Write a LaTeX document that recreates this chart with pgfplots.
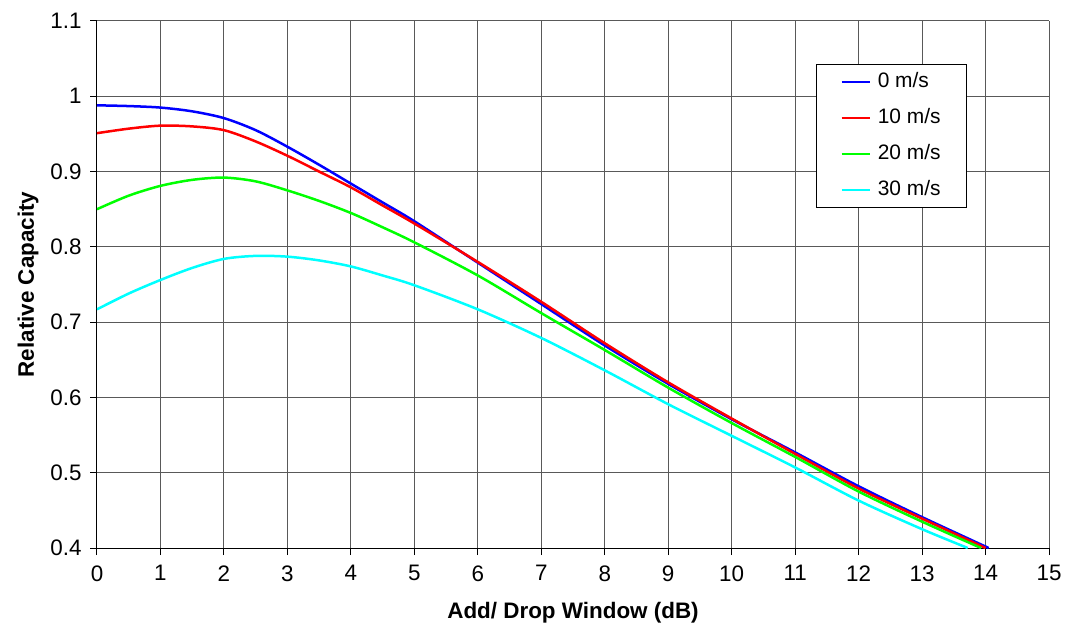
\documentclass[border=0pt]{standalone}
\usepackage{pgfplots}
\pgfplotsset{compat=1.18}
\usepackage{fontspec}
\setmainfont{Liberation Sans}
\definecolor{cblue}{RGB}{0,0,255}
\definecolor{cred}{RGB}{255,0,0}
\definecolor{cgreen}{RGB}{0,255,0}
\definecolor{ccyan}{RGB}{0,255,255}
\begin{document}
\begin{tikzpicture}
\begin{axis}[
  at={(0,0)}, anchor=south west,
  scale only axis, width=952bp, height=527bp,
  xmin=0, xmax=15, ymin=0.4, ymax=1.1,
  xtick={0,1,...,15}, ytick={0.4,0.5,...,1.1},
  yticklabels={0.4,0.5,0.6,0.7,0.8,0.9,1,1.1},
  /pgf/number format/assume math mode=true,
  axis lines*=left,
  axis line style={black, line width=1bp, -},
  grid=major,
  major grid style={black!65, line width=1bp},
  xtick align=outside, ytick align=outside,
  major tick length=7bp,
  every tick/.style={black, line width=1bp},
  ticklabel style={font=\fontsize{22.5}{26}\selectfont},
  xticklabel style={yshift=-7bp},
  yticklabel style={xshift=-5bp},
  xlabel={\textbf{Add/ Drop Window (dB)}},
  ylabel={\textbf{Relative Capacity}},
  label style={font=\fontsize{22.5}{26}\selectfont},
  xlabel style={at={(rel axis cs:0.5,0)}, anchor=center, yshift=-65bp},
  ylabel style={at={(rel axis cs:0,0.5)}, anchor=center, yshift=69bp},
  clip=true,
  legend cell align=left,
  legend style={at={(rel axis cs:0.755,0.918)}, anchor=north west,
    draw=black, line width=1bp, font=\fontsize{21}{24}\selectfont,
    inner xsep=24bp, inner ysep=6bp, row sep=13bp, column sep=5bp,
    nodes={inner sep=2bp, text height=15bp, text depth=4bp}},
  legend image code/.code={\draw[#1, line width=2.5bp] (0bp,0bp) -- (28bp,0bp);},
  every axis plot/.append style={line width=2.5bp, smooth, tension=0.5},
]
\addplot[cblue] coordinates {
(0,0.988) (0.5,0.987) (1,0.985) (1.5,0.980) (2,0.971) (2.5,0.955) (3,0.933) (3.5,0.909) (4,0.884) (4.5,0.859) (5,0.834) (6,0.779) (7,0.724) (8,0.669) (9,0.618) (10,0.571) (11,0.527) (12,0.482) (13,0.441) (14.05,0.4)};
\addlegendentry{0 m/s}
\addplot[cred] coordinates {
(0,0.951) (0.5,0.957) (1,0.961) (1.5,0.960) (2,0.955) (2.5,0.940) (3,0.921) (3.5,0.900) (4,0.879) (4.5,0.855) (5,0.831) (6,0.780) (7,0.727) (8,0.672) (9,0.620) (10,0.572) (11,0.525) (12,0.479) (13,0.439) (14.0,0.4)};
\addlegendentry{10 m/s}
\addplot[cgreen] coordinates {
(0,0.850) (0.5,0.868) (1,0.881) (1.5,0.889) (2,0.892) (2.5,0.887) (3,0.875) (3.5,0.861) (4,0.845) (4.5,0.826) (5,0.806) (6,0.762) (7,0.712) (8,0.663) (9,0.613) (10,0.566) (11,0.521) (12,0.475) (13,0.435) (13.93,0.4)};
\addlegendentry{20 m/s}
\addplot[ccyan] coordinates {
(0,0.717) (0.5,0.738) (1,0.756) (1.5,0.772) (2,0.784) (2.5,0.788) (3,0.787) (3.5,0.782) (4,0.774) (4.5,0.762) (5,0.749) (6,0.717) (7,0.679) (8,0.636) (9,0.591) (10,0.549) (11,0.507) (12,0.463) (13,0.425) (13.72,0.4)};
\addlegendentry{30 m/s}
\end{axis}
\pgfresetboundingbox
\path (-97bp,-89bp) rectangle (969bp,548bp);
\end{tikzpicture}
\end{document}
